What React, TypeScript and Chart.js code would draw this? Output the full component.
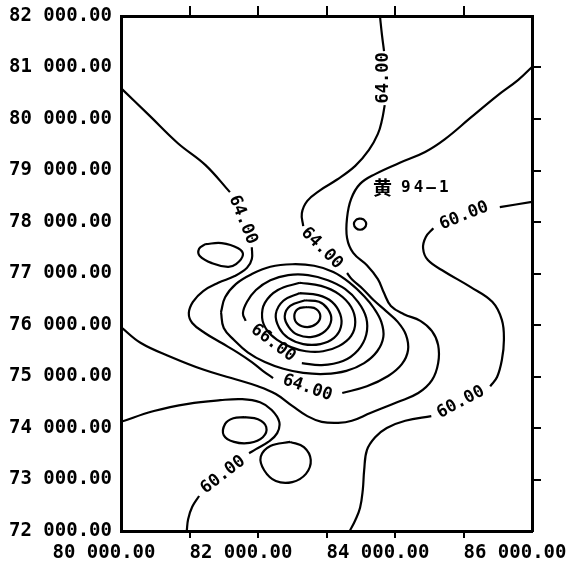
import React, { useEffect, useRef } from 'react';
import { Chart, registerables } from 'chart.js';

Chart.register(...registerables);

// Axis extents and tick labels (metres)
const xMin = 81000;
const xMax = 87000;
const yMin = 72000;
const yMax = 82000;
const tickStep = 1000;
const xTickLabels = [80000, 82000, 84000, 86000];

// Contour polylines, [easting, northing] in thousands of metres
const c64West = [[81.00, 80.60], [81.42, 80.06], [81.83, 79.53], [82.23, 79.11], [82.59, 78.58]];
const c64Loop = [[82.91, 77.51], [82.91, 77.28], [82.84, 77.11], [82.66, 76.95], [82.42, 76.82], [82.20, 76.66], [82.05, 76.45], [81.99, 76.23], [82.04, 76.04], [82.23, 75.84], [82.47, 75.65], [82.71, 75.46], [82.91, 75.28], [83.07, 75.11], [83.22, 74.97]];
const c64East = [[84.23, 74.68], [84.59, 74.81], [84.90, 75.01], [85.10, 75.24], [85.19, 75.51], [85.16, 75.81], [85.04, 76.06], [84.87, 76.27], [84.69, 76.48], [84.53, 76.70], [84.37, 76.89], [84.30, 77.01]];
const c64North = [[83.66, 77.92], [83.64, 78.17], [83.72, 78.41], [83.91, 78.62], [84.15, 78.82], [84.42, 79.09], [84.62, 79.40], [84.75, 79.71], [84.81, 79.98], [84.85, 80.27]];
const c64Top = [[84.84, 81.32], [84.81, 81.63], [84.78, 82.00]];
const c62 = [[81.00, 75.96], [81.29, 75.65], [81.73, 75.38], [82.21, 75.13], [82.61, 74.97], [83.00, 74.81], [83.26, 74.66], [83.50, 74.43], [83.72, 74.23], [83.93, 74.12], [84.17, 74.10], [84.37, 74.14], [84.64, 74.29], [85.03, 74.50], [85.34, 74.68], [85.54, 74.93], [85.63, 75.26], [85.63, 75.61], [85.54, 75.88], [85.37, 76.08], [85.13, 76.21], [84.94, 76.37], [84.84, 76.62], [84.75, 76.89], [84.59, 77.16], [84.39, 77.40], [84.30, 77.69], [84.30, 78.08], [84.36, 78.45], [84.49, 78.74], [84.71, 78.93], [85.07, 79.15], [85.44, 79.36], [85.73, 79.61], [86.10, 80.02], [86.49, 80.45], [86.80, 80.76], [87.00, 81.01]];
const ring65 = [[82.46, 76.25], [82.50, 75.94], [82.65, 75.71], [82.85, 75.47], [83.10, 75.28], [83.37, 75.15], [83.66, 75.07], [83.98, 75.05], [84.29, 75.11], [84.55, 75.26], [84.74, 75.49], [84.83, 75.77], [84.80, 76.06], [84.69, 76.33], [84.55, 76.56], [84.34, 76.82], [84.10, 77.03], [83.82, 77.15], [83.50, 77.18], [83.18, 77.13], [82.91, 76.99], [82.68, 76.80], [82.52, 76.54], [82.46, 76.25]];
const ring66 = [[83.64, 75.26], [83.93, 75.22], [84.24, 75.30], [84.46, 75.51], [84.58, 75.81], [84.58, 76.14], [84.46, 76.45], [84.27, 76.70], [84.02, 76.87], [83.73, 76.97], [83.44, 76.97], [83.18, 76.87], [82.97, 76.68], [82.84, 76.45], [82.78, 76.23], [82.82, 76.08]];
const ring67 = [[83.61, 76.82], [83.92, 76.76], [84.18, 76.60], [84.36, 76.35], [84.42, 76.06], [84.36, 75.79], [84.18, 75.59], [83.95, 75.49], [83.70, 75.49], [83.48, 75.57], [83.28, 75.71], [83.13, 75.90], [83.06, 76.14], [83.10, 76.43], [83.29, 76.68], [83.61, 76.82]];
const ring68 = [[83.61, 76.62], [83.88, 76.58], [84.08, 76.45], [84.20, 76.21], [84.21, 75.96], [84.11, 75.75], [83.91, 75.63], [83.66, 75.63], [83.44, 75.75], [83.31, 75.94], [83.26, 76.21], [83.37, 76.47], [83.61, 76.62]];
const ring69 = [[83.69, 76.48], [83.89, 76.45], [84.02, 76.31], [84.07, 76.10], [83.98, 75.88], [83.79, 75.77], [83.58, 75.81], [83.45, 75.96], [83.39, 76.17], [83.47, 76.37], [83.69, 76.48]];
const ring70 = [[83.72, 76.35], [83.85, 76.31], [83.91, 76.17], [83.85, 76.02], [83.72, 75.96], [83.58, 76.02], [83.53, 76.17], [83.58, 76.31], [83.72, 76.35]];
const ovalNorthWest = [[82.23, 77.57], [82.47, 77.59], [82.71, 77.49], [82.78, 77.36], [82.68, 77.18], [82.56, 77.13], [82.33, 77.20], [82.15, 77.34], [82.14, 77.48], [82.23, 77.57]];
const ovalSouth1 = [[82.80, 74.21], [83.00, 74.17], [83.12, 74.02], [83.07, 73.82], [82.88, 73.71], [82.65, 73.73], [82.50, 73.86], [82.52, 74.08], [82.64, 74.19], [82.80, 74.21]];
const ovalSouth2 = [[83.47, 73.73], [83.67, 73.63], [83.77, 73.38], [83.70, 73.11], [83.50, 72.95], [83.26, 72.97], [83.09, 73.18], [83.04, 73.44], [83.18, 73.65], [83.47, 73.73]];
const wellCircle = [[84.49, 78.07], [84.55, 78.04], [84.58, 77.96], [84.55, 77.88], [84.49, 77.85], [84.43, 77.88], [84.40, 77.96], [84.43, 78.04], [84.49, 78.07]];
const c60SouthWestA = [[81.00, 74.12], [81.48, 74.33], [81.98, 74.47], [82.45, 74.54], [82.77, 74.56], [83.03, 74.50], [83.20, 74.35], [83.31, 74.12], [83.28, 73.90], [83.15, 73.73], [82.97, 73.59], [82.87, 73.51]];
const c60SouthWestB = [[82.14, 72.68], [82.04, 72.47], [81.98, 72.23], [81.96, 72.00]];
const c60EastA = [[87.00, 78.39], [86.53, 78.29]];
const c60EastB = [[85.56, 77.88], [85.45, 77.71], [85.41, 77.49], [85.48, 77.26], [85.73, 77.03], [86.10, 76.74], [86.42, 76.45], [86.56, 76.10], [86.59, 75.71], [86.56, 75.32], [86.49, 74.99], [86.39, 74.81]];
const c60EastC = [[85.53, 74.23], [85.15, 74.14], [84.88, 74.00], [84.71, 73.82], [84.59, 73.57], [84.55, 73.18], [84.53, 72.80], [84.49, 72.45], [84.42, 72.21], [84.34, 72.00]];

const contourLines = [
  c64West, c64Loop, c64East, c64North, c64Top, c62,
  ring65, ring66, ring67, ring68, ring69, ring70,
  ovalNorthWest, ovalSouth1, ovalSouth2, wellCircle,
  c60SouthWestA, c60SouthWestB, c60EastA, c60EastB, c60EastC,
];

// Contour labels: text, anchor [easting, northing] (thousands of metres), angle (deg)
const labelTexts = ['64.00', '64.00', '64.00', '64.00', '66.00', '60.00', '60.00', '60.00'];
const labelAnchors = [[82.78, 78.04], [83.72, 74.78], [83.93, 77.49], [84.83, 80.80], [83.22, 75.65], [82.49, 73.09], [86.01, 78.12], [85.96, 74.50]];
const labelAngles = [68, 19, 45, -90, 37, -38, -22, -28];

const wellChar = '黄';
const wellNumber = '94—1';
const wellAnchor = [84.68, 78.66];

const fmt = (v: number) => `${Math.floor(v / 1000)} ${String(Math.round(v % 1000)).padStart(3, '0')}.00`;

const MONO = '"DejaVu Sans Mono", "Liberation Mono", monospace';

const annotate = {
  id: 'annotate',
  afterDatasetsDraw(chart: any) {
    const { ctx, scales } = chart;
    const xs = scales.x;
    const ys = scales.y;
    ctx.save();
    ctx.fillStyle = '#000';
    ctx.font = `bold 17px ${MONO}`;
    ctx.textAlign = 'center';
    ctx.textBaseline = 'middle';
    labelTexts.forEach((t, i) => {
      const px = xs.getPixelForValue(labelAnchors[i][0] * 1000);
      const py = ys.getPixelForValue(labelAnchors[i][1] * 1000);
      ctx.save();
      ctx.translate(px, py);
      ctx.rotate((labelAngles[i] * Math.PI) / 180);
      ctx.fillText(t, 0, 0);
      ctx.restore();
    });
    // well name
    const wx = xs.getPixelForValue(wellAnchor[0] * 1000);
    const wy = ys.getPixelForValue(wellAnchor[1] * 1000);
    ctx.textAlign = 'left';
    ctx.font = 'bold 19px "Noto Sans CJK SC", sans-serif';
    ctx.fillText(wellChar, wx, wy);
    ctx.font = `bold 16px ${MONO}`;
    try { (ctx as any).letterSpacing = '3px'; } catch (e) {}
    ctx.fillText(wellNumber, wx + 28, wy);
    try { (ctx as any).letterSpacing = '0px'; } catch (e) {}
    // bottom axis labels
    ctx.font = `bold 19px ${MONO}`;
    ctx.textAlign = 'left';
    ctx.textBaseline = 'middle';
    const yb = chart.chartArea.bottom + 22;
    xTickLabels.forEach((v) => {
      ctx.fillText(fmt(v), xs.getPixelForValue(v), yb);
    });
    ctx.restore();
  },
};

const interior = (scale: any) => {
  scale.ticks = scale.ticks.filter((t: any) => t.value > scale.min && t.value < scale.max);
};

export default function App() {
  const ref = useRef<HTMLCanvasElement>(null);
  useEffect(() => {
    if (!ref.current) return;
    const datasets = contourLines.map((line) => ({
      data: line.map(([x, y]) => ({ x: x * 1000, y: y * 1000 })),
      showLine: true,
      borderColor: '#000',
      borderWidth: 2.2,
      pointRadius: 0,
      tension: 0.4,
      fill: false,
    }));
    const tickGrid = (len: number) => ({
      display: true,
      drawOnChartArea: false,
      drawTicks: true,
      tickLength: len,
      color: '#000',
      lineWidth: 2,
    });
    const border = { display: true, color: '#000', width: 3 };
    const chart = new Chart(ref.current, {
      type: 'scatter',
      data: { datasets },
      options: {
        responsive: false,
        animation: false,
        layout: { padding: 0 },
        plugins: { legend: { display: false }, tooltip: { enabled: false } },
        scales: {
          x: {
            type: 'linear', position: 'bottom', min: xMin, max: xMax,
            ticks: { stepSize: tickStep, display: false },
            grid: tickGrid(7), border,
            afterBuildTicks: interior,
            afterFit: (s: any) => { s.height = 30; },
          },
          x2: {
            type: 'linear', position: 'top', min: xMin, max: xMax,
            ticks: { stepSize: tickStep, display: false },
            grid: tickGrid(10), border,
            afterBuildTicks: interior,
            afterFit: (s: any) => { s.height = 16; },
          },
          y: {
            type: 'linear', position: 'left', min: yMin, max: yMax,
            ticks: {
              stepSize: tickStep, padding: 0, color: '#000',
              font: { family: MONO, size: 19, weight: 'bold' },
              callback: (v: any) => fmt(Number(v)),
            },
            grid: { display: true, drawOnChartArea: false, drawTicks: true, tickLength: 9, color: 'rgba(0,0,0,0)' },
            border,
            afterFit: (s: any) => { s.width = 121; },
          },
          y2: {
            type: 'linear', position: 'right', min: yMin, max: yMax,
            ticks: { stepSize: tickStep, display: false },
            grid: tickGrid(9), border,
            afterBuildTicks: interior,
            afterFit: (s: any) => { s.width = 35; },
          },
        },
      } as any,
      plugins: [annotate],
    });
    return () => chart.destroy();
  }, []);
  return (
    <div style={{ position: 'fixed', left: 0, top: 0, width: 567, height: 561, background: '#fff' }}>
      <canvas ref={ref} width={567} height={561} style={{ display: 'block' }} />
    </div>
  );
}
